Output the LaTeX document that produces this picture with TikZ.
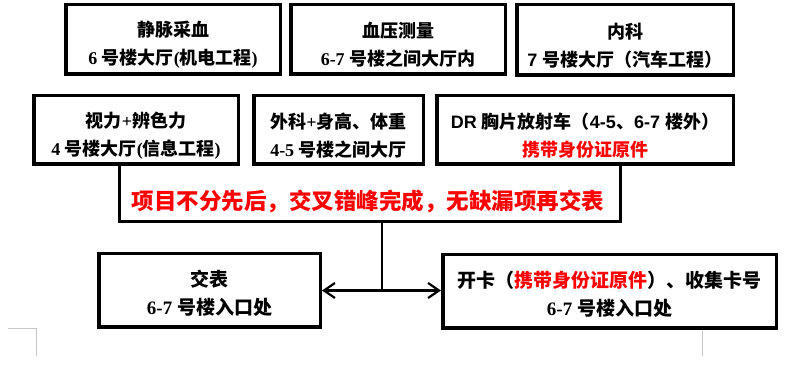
\documentclass[tikz,border=0pt]{standalone}
\usepackage{fontspec}
\setmainfont{Noto Sans CJK SC}
\newfontfamily\serfam{Liberation Serif}
\newfontfamily\sanfam{Liberation Sans}
\newcommand\MyS[1]{{\serfam #1}}
\newcommand\MyA[1]{{\sanfam #1}}
\newcommand\TopStrut{\rule{0pt}{26pt}}
\newcommand\LowStrut{\rule{0pt}{21pt}}
\usetikzlibrary{arrows.meta}
\begin{document}
\begin{tikzpicture}[x=1pt,y=-1pt,
  box/.style={draw, line width=3.5pt, align=center, inner sep=0pt,
    font=\bfseries\fontsize{18}{28}\selectfont},
  lowbox/.style={box, font=\bfseries\fontsize{19}{28}\selectfont},
  notetext/.style={text=red, inner sep=0pt, font=\bfseries\fontsize{22.5}{26}\selectfont},
  openframe/.style={draw, line width=3pt},
  linkline/.style={draw, line width=1.6pt},
  dblarrow/.style={draw, line width=2.2pt, {Straight Barb[length=11pt,width=15pt]}-{Straight Barb[length=11pt,width=15pt]}},
  pagemark/.style={draw, gray!45, line width=0.8pt}]
\useasboundingbox (0,0) rectangle (804,366);
\fill[white] (0,0) rectangle (804,366);

% row 1
\node[box, minimum width=214.5pt, minimum height=69.5pt] (b1) at (173,39.5)
  {\TopStrut 静脉采血\\\MyS{6 }号楼大厅\MyS{(}机电工程\MyS{)}};
\node[box, minimum width=214.5pt, minimum height=69.5pt] (b2) at (398,39.5)
  {\TopStrut 血压测量\\\MyS{6-7 }号楼之间大厅内};
\node[box, minimum width=216.5pt, minimum height=70.5pt] (b3) at (625,40)
  {\TopStrut 内科\\\MyA{7 }号楼大厅（汽车工程）};

% row 2
\node[box, minimum width=204.5pt, minimum height=68.5pt] (b4) at (136,130)
  {\TopStrut 视力\MyS{+}辨色力\\\MyS{4 }号楼大厅\MyS{(}信息工程\MyS{)}};
\node[box, minimum width=169.5pt, minimum height=68.5pt] (b5) at (338.5,130)
  {\TopStrut 外科\MyS{+}身高、体重\\\MyS{4-5 }号楼之间大厅};
\node[box, minimum width=296.5pt, minimum height=68.5pt] (b6) at (585,130)
  {\TopStrut\MyA{DR }胸片放射车（\MyA{4-5}、\MyA{6-7 }楼外）\\{\color{red}携带身份证原件}};

% note with open frame
\node[notetext] (nt) at (368,201) {项目不分先后，交叉错峰完成，无缺漏项再交表};
\coordinate (fl) at (119,166);
\coordinate (fr) at (620,166);
\coordinate (nb) at (382,222);
\path[openframe] (fl) |- (nb) -| (fr);

% bottom row
\node[lowbox, minimum width=221.5pt, minimum height=73.5pt] (jb) at (209.5,290.5)
  {\LowStrut 交表\\\MyS{6-7 }号楼入口处};
\node[lowbox, minimum width=333.5pt, minimum height=73.5pt] (kk) at (609.5,291.5)
  {\LowStrut 开卡（{\color{red}携带身份证原件}）、收集卡号\\\MyS{6-7 }号楼入口处};

% connectors
\path[dblarrow] (jb.east) -- (jb.east -| kk.west);
\path[linkline] (nb) -- (nb |- jb.east);

% page margin marks
\coordinate (m1) at (8,328);
\coordinate (m2) at (36,356);
\coordinate (m3) at (702,331);
\coordinate (m4) at (702,356);
\path[pagemark] (m1) -| (m2);
\path[pagemark] (m3) -- (m4);
\end{tikzpicture}
\end{document}
